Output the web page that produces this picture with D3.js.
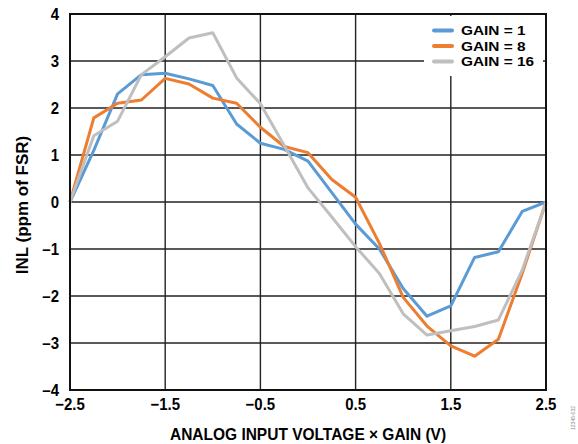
<!DOCTYPE html>
<html>
<head>
<meta charset="utf-8">
<script src="https://cdn.jsdelivr.net/npm/d3@7"></script>
<style>
  body { margin: 0; background: #fff; }
  text { font-family: Arial, "Liberation Sans", sans-serif; font-weight: bold; fill: #000; }
</style>
</head>
<body>
<script>
// INL vs input voltage, one curve per gain setting
var voltage = [-2.5, -2.25, -2, -1.75, -1.5, -1.25, -1, -0.75, -0.5, -0.25, 0,
               0.25, 0.5, 0.75, 1, 1.25, 1.5, 1.75, 2, 2.25, 2.5];
var gain1  = [0, 1.1, 2.3, 2.71, 2.74, 2.62, 2.48, 1.66, 1.25, 1.12, 0.87,
              0.2, -0.47, -1.0, -1.84, -2.43, -2.21, -1.18, -1.06, -0.2, 0];
var gain8  = [0, 1.79, 2.1, 2.17, 2.63, 2.51, 2.21, 2.1, 1.59, 1.18, 1.05,
              0.48, 0.1, -0.88, -2.03, -2.64, -3.06, -3.28, -2.92, -1.52, 0];
var gain16 = [0, 1.41, 1.72, 2.71, 3.09, 3.49, 3.6, 2.64, 2.09, 1.2, 0.3,
              -0.32, -0.95, -1.52, -2.38, -2.83, -2.74, -2.65, -2.51, -1.45, 0];
var seriesNames = ["GAIN = 1", "GAIN = 8", "GAIN = 16"];
var seriesColors = ["#5B9BD5", "#ED7D31", "#BFBFBF"];
var xTicks = [-2.5, -1.5, -0.5, 0.5, 1.5, 2.5];
var yTicks = [-4, -3, -2, -1, 0, 1, 2, 3, 4];

var width = 578, height = 444;
var margin = {left: 70, right: 32, top: 14, bottom: 54};

var svg = d3.select("body").append("svg")
    .attr("width", width)
    .attr("height", height);

var x = d3.scaleLinear().domain([-2.5, 2.5]).range([margin.left, width - margin.right]);
var y = d3.scaleLinear().domain([-4, 4]).range([height - margin.bottom, margin.top]);

// grid
svg.append("g")
    .selectAll("line")
    .data(xTicks)
    .enter().append("line")
    .attr("x1", function(d) { return x(d); })
    .attr("x2", function(d) { return x(d); })
    .attr("y1", y(-4))
    .attr("y2", y(4))
    .attr("stroke", "#222")
    .attr("stroke-width", 1.4);

svg.append("g")
    .selectAll("line")
    .data(yTicks)
    .enter().append("line")
    .attr("x1", x(-2.5))
    .attr("x2", x(2.5))
    .attr("y1", function(d) { return y(d); })
    .attr("y2", function(d) { return y(d); })
    .attr("stroke", "#222")
    .attr("stroke-width", 1.4);

// tick labels (slightly tall, like the original)
var fmt = function(d) { return d3.format(".1f")(d).replace("-", "\u2013"); };

svg.append("g")
    .selectAll("text")
    .data(xTicks)
    .enter().append("text")
    .attr("transform", function(d) { return "translate(" + x(d) + "," + (y(-4) + 20) + ") scale(1,1.1)"; })
    .attr("text-anchor", "middle")
    .style("font-size", "15px")
    .text(fmt);

svg.append("g")
    .selectAll("text")
    .data(yTicks)
    .enter().append("text")
    .attr("transform", function(d) { return "translate(" + (x(-2.5) - 11) + "," + y(d) + ") scale(1,1.1)"; })
    .attr("dy", "0.36em")
    .attr("text-anchor", "end")
    .style("font-size", "15px")
    .text(function(d) { return String(d).replace("-", "\u2013"); });

// axis titles
svg.append("text")
    .attr("transform", "translate(" + ((x(-2.5) + x(2.5)) / 2) + ",440) scale(1,1.1)")
    .attr("text-anchor", "middle")
    .style("font-size", "15.5px")
    .text("ANALOG INPUT VOLTAGE \u00d7 GAIN (V)");

svg.append("text")
    .attr("transform", "translate(28,205) rotate(-90)")
    .attr("text-anchor", "middle")
    .style("font-size", "17px")
    .text("INL (ppm of FSR)");

// curves
var series = [gain1, gain8, gain16];
var line = d3.line()
    .x(function(d, i) { return x(voltage[i]); })
    .y(function(d) { return y(d); });

// legend box hides the grid behind it
svg.append("rect")
    .attr("x", 424)
    .attr("y", y(4) + 2)
    .attr("width", 119)
    .attr("height", 60)
    .attr("fill", "#fff");

svg.append("g")
    .selectAll("path")
    .data(series)
    .enter().append("path")
    .attr("d", line)
    .attr("fill", "none")
    .attr("stroke", function(d, i) { return seriesColors[i]; })
    .attr("stroke-width", 3)
    .attr("stroke-linejoin", "round");

// frame
svg.append("rect")
    .attr("x", x(-2.5))
    .attr("y", y(4))
    .attr("width", x(2.5) - x(-2.5))
    .attr("height", y(-4) - y(4))
    .attr("fill", "none")
    .attr("stroke", "#111")
    .attr("stroke-width", 2);

// legend
var legend = svg.append("g")
    .selectAll("g")
    .data(seriesNames)
    .enter().append("g")
    .attr("transform", function(d, i) { return "translate(434," + (30.5 + i * 15.5) + ")"; });

legend.append("line")
    .attr("x1", 0)
    .attr("x2", 18)
    .attr("stroke", function(d, i) { return seriesColors[i]; })
    .attr("stroke-width", 4)
    .attr("stroke-linecap", "round");

legend.append("text")
    .attr("transform", "translate(27,0) scale(1.14,1)")
    .attr("dy", "0.36em")
    .style("font-size", "13.5px")
    .text(function(d) { return d; });

// figure id
svg.append("text")
    .attr("transform", "translate(575,418) rotate(-90)")
    .attr("text-anchor", "middle")
    .style("font-size", "5px")
    .style("font-weight", "normal")
    .style("fill", "#888")
    .text("12345-032");
</script>
</body>
</html>
